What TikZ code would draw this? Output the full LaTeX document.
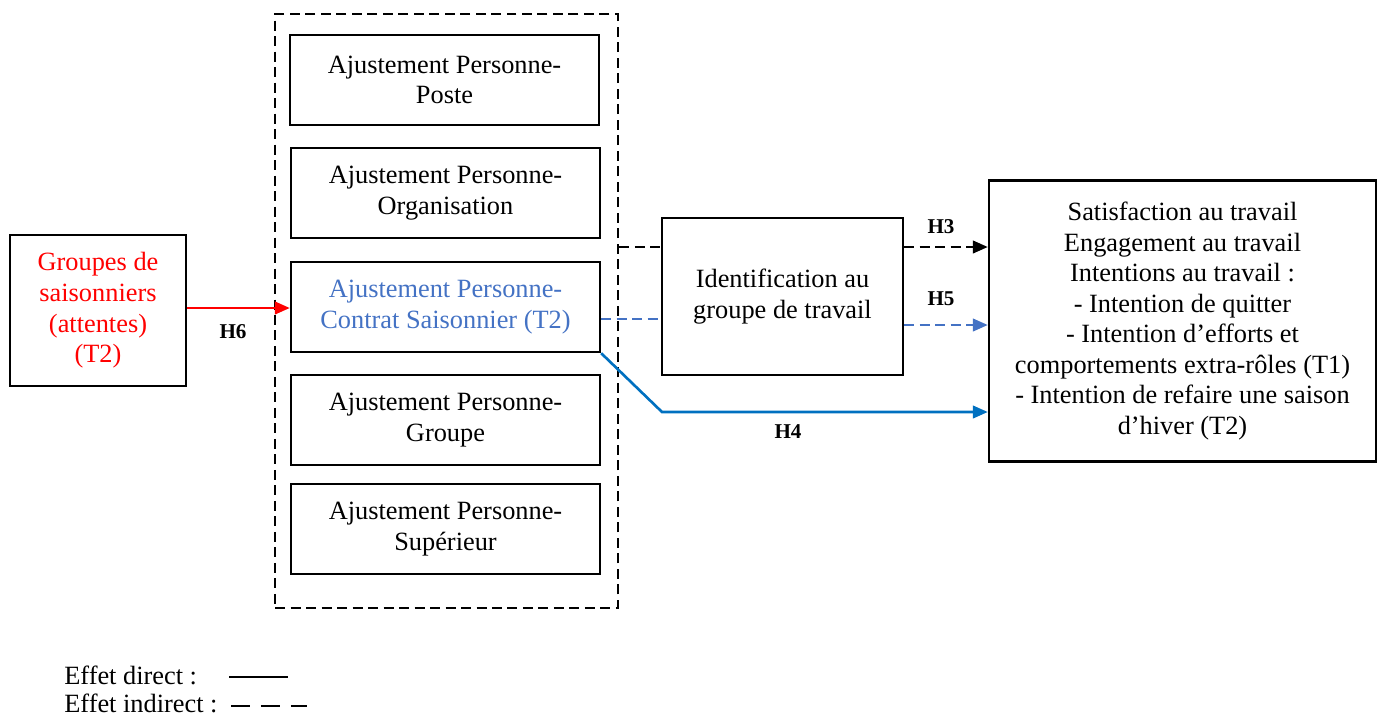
\documentclass[tikz,border=0pt]{standalone}
\usepackage{fontspec}
\setmainfont{Liberation Serif}
\usetikzlibrary{arrows.meta}
\definecolor{softblue}{RGB}{68,114,196}
\definecolor{deepblue}{RGB}{0,112,192}
\definecolor{brightred}{RGB}{255,0,0}

\begin{document}
\begin{tikzpicture}[x=0.02cm,y=-0.02cm,>={Triangle[length=3mm,width=2.5mm]},
    font=\fontsize{15}{17.4}\selectfont,
    box/.style={draw,line width=1.4pt,inner sep=2pt,align=center,minimum width=6.18cm,minimum height=1.8cm},
    direct/.style={line width=1.5pt},
    indirect/.style={line width=1.5pt,dash pattern=on 2mm off 1.1mm},
    hlab/.style={font=\fontsize{12}{14}\selectfont\bfseries}]
    \useasboundingbox (0,0) rectangle (1381,717);
    % cadre des ajustements
    \node[draw,indirect,minimum width=6.86cm,minimum height=11.88cm] (frame) at (446.5,311) {};
    \node[box] (poste) at (444.5,80) {Ajustement Personne-\\Poste};
    \node[box] (orga) at (445.5,193) {Ajustement Personne-\\Organisation};
    \node[box,text=softblue] (contrat) at (445.5,307) {Ajustement Personne-\\Contrat Saisonnier (T2)};
    \node[box] (groupe) at (445.5,420) {Ajustement Personne-\\Groupe};
    \node[box] (sup) at (445.5,529) {Ajustement Personne-\\Sup\'erieur};
    % autres blocs
    \node[box,text=brightred,minimum width=3.52cm,minimum height=3.02cm] (groupes) at (98,310.5)
        {Groupes de\\saisonniers\\(attentes)\\(T2)};
    \node[box,minimum width=4.82cm,minimum height=3.14cm] (ident) at (782.5,296.5)
        {Identification au\\groupe de travail};
    \node[box,minimum width=7.74cm,minimum height=5.62cm] (outcome) at (1182.5,321)
        {Satisfaction au travail\\Engagement au travail\\Intentions au travail :\\- Intention de quitter\\- Intention d'efforts et\\comportements extra-r\^oles (T1)\\- Intention de refaire une saison\\d'hiver (T2)};
    % liens
    \coordinate (h6) at (0,308);
    \coordinate (h3) at (0,247);
    \coordinate (h5a) at (0,319);
    \coordinate (h5b) at (0,325);
    \coordinate (bend) at (662,412);
    \draw[direct,brightred,->] (groupes.east |- h6) -- (contrat.west |- h6);
    \draw[indirect] (frame.east |- h3) -- (ident.west |- h3);
    \draw[indirect,->] (ident.east |- h3) -- (outcome.west |- h3);
    \draw[indirect,softblue] (contrat.east |- h5a) -- (ident.west |- h5a);
    \draw[indirect,softblue,->] (ident.east |- h5b) -- (outcome.west |- h5b);
    \draw[direct,deepblue,->] (contrat.south east) -- (bend) -- (outcome.west |- bend);
    \node[hlab] (labh6) at (233,332) {H6};
    \node[hlab] (labh3) at (941,227) {H3};
    \node[hlab] (labh5) at (941,299) {H5};
    \node[hlab] (labh4) at (788,432) {H4};
    % legende
    \node[anchor=west,inner sep=0pt] (legdirect) at (64,675) {Effet direct :};
    \node[anchor=west,inner sep=0pt] (legindirect) at (64,703) {Effet indirect :};
    \coordinate (ld1) at (229,677);
    \coordinate (ld2) at (288,677);
    \coordinate (li1) at (231,706);
    \coordinate (li2) at (307,706);
    \draw[direct] (ld1) -- (ld2);
    \draw[line width=1.6pt,dash pattern=on 3.8mm off 2.2mm] (li1) -- (li2);
\end{tikzpicture}
\end{document}
